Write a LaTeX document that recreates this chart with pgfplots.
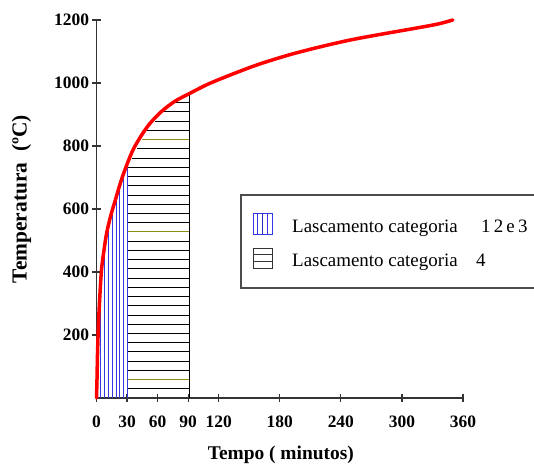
\documentclass[border=0pt]{standalone}
\usepackage{fontspec}
\setmainfont{Liberation Serif}
\usepackage{pgfplots}
\pgfplotsset{compat=1.18}
\definecolor{hblue}{RGB}{55,55,225}
\definecolor{holive}{RGB}{140,140,25}
\newcommand{\hl}[3]{\addplot[#3, line width=0.8bp] coordinates {(#1,#2) (90.9,#2)};}
\newcommand{\vl}[2]{\addplot[hblue, line width=0.8bp] coordinates {(#1,0) (#1,#2)};}
\begin{document}
\begin{tikzpicture}
\useasboundingbox (0,0) rectangle (534bp,466bp);
\begin{axis}[
 at={(96.5bp,68bp)}, anchor=south west,
 scale only axis, width=366.5bp, height=378bp,
 xmin=0, xmax=360, ymin=0, ymax=1200,
 axis x line=bottom, axis y line=left,
 axis line style={-, black!80, line width=1.2bp},
 xtick={0,30,60,90,120,180,240,300,360},
 ytick={200,400,600,800,1000,1200},
 tick align=center, major tick length=8bp,
 tick style={black!80, line width=1.2bp},
 /pgf/number format/assume math mode=true,
 /pgf/number format/1000 sep={},
 ticklabel style={font=\fontsize{17.5}{17.5}\selectfont\bfseries},
 xticklabel style={yshift=-10bp},
 xlabel={Tempo ( minutos)}, ylabel={Temperatura\ \ (ºC)},
 xlabel style={font=\fontsize{19.5}{20}\selectfont\bfseries, at={(axis description cs:0.503,-0.151)}, anchor=center},
 ylabel style={font=\fontsize{21.5}{22}\selectfont\bfseries, at={(axis description cs:-0.205,0.526)}, anchor=center},
 clip=false,
]
% blue vertical hatch (categoria 1 2 e 3)
\vl{3.9}{360}
\vl{7.7}{475}
\vl{11.5}{545}
\vl{15.3}{595}
\vl{19.1}{640}
\vl{22.9}{680}
\vl{26.7}{718}
\vl{30.5}{745}
% black horizontal hatch (categoria 4)
\hl{30.5}{29.3}{black}
\hl{30.5}{58.6}{holive}
\hl{30.5}{87.9}{black}
\hl{30.5}{117.2}{black}
\hl{30.5}{146.5}{black}
\hl{30.5}{175.8}{black}
\hl{30.5}{205.1}{black}
\hl{30.5}{234.4}{black}
\hl{30.5}{263.7}{black}
\hl{30.5}{293.0}{black}
\hl{30.5}{322.3}{black}
\hl{30.5}{351.6}{black}
\hl{30.5}{380.9}{black}
\hl{30.5}{410.2}{black}
\hl{30.5}{439.5}{black}
\hl{30.5}{468.8}{black}
\hl{30.5}{498.1}{black}
\hl{30.5}{527.4}{holive}
\hl{30.5}{556.7}{black}
\hl{30.5}{586.0}{black}
\hl{30.5}{615.3}{black}
\hl{30.5}{644.6}{black}
\hl{30.5}{673.9}{black}
\hl{30.5}{703.2}{black}
\hl{30.5}{732.5}{black}
\hl{34.6}{761.8}{black}
\hl{39.5}{791.1}{black}
\hl{44.4}{820.4}{holive}
\hl{49.3}{849.7}{black}
\hl{57.5}{879.0}{black}
\hl{65.6}{908.3}{black}
\hl{78.0}{937.6}{black}
\addplot[black, line width=1bp] coordinates {(90.9,0) (90.9,966)};
% temperature curve
\addplot[red, line width=3.5bp, smooth, line cap=round] coordinates {
(0,0) (0.5,60) (1,140) (2,240) (3.4,330) (5,410) (7.4,470) (10,524)
(13.9,578) (18.2,625) (24,688) (30,742) (36.2,790) (44.4,835) (52.6,872)
(64,910) (77,942) (91,966) (110,997) (135,1030) (160,1060) (190,1090)
(220,1115) (250,1137) (280,1155) (310,1172) (335,1187) (350,1200)};
\end{axis}
% legend
\draw[black!70, line width=1.3bp] (241bp,178bp) rectangle (545bp,271bp);
\draw[hblue, line width=0.9bp] (253bp,232bp) rectangle (272bp,253bp);
\draw[hblue, line width=0.8bp] (257.75bp,232bp) -- (257.75bp,253bp);
\draw[hblue!80!black, line width=1.3bp] (262.5bp,232bp) -- (262.5bp,253bp);
\draw[hblue, line width=0.8bp] (267.25bp,232bp) -- (267.25bp,253bp);
\draw[black!80, line width=0.9bp] (253bp,198bp) rectangle (272bp,218bp);
\draw[black!80, line width=0.8bp] (253bp,204.7bp) -- (272bp,204.7bp);
\draw[black!80, line width=0.8bp] (253bp,211.3bp) -- (272bp,211.3bp);
\node[anchor=base west, inner sep=0pt, font=\fontsize{19}{19}\selectfont] at (292bp,233bp) {Lascamento categoria};
\node[anchor=base west, inner sep=0pt, font=\fontsize{19}{19}\selectfont] at (481bp,233bp) {1\,2\,e\,3};
\node[anchor=base west, inner sep=0pt, font=\fontsize{19}{19}\selectfont] at (292bp,199bp) {Lascamento categoria};
\node[anchor=base west, inner sep=0pt, font=\fontsize{19}{19}\selectfont] at (476bp,199bp) {4};
\end{tikzpicture}
\end{document}
